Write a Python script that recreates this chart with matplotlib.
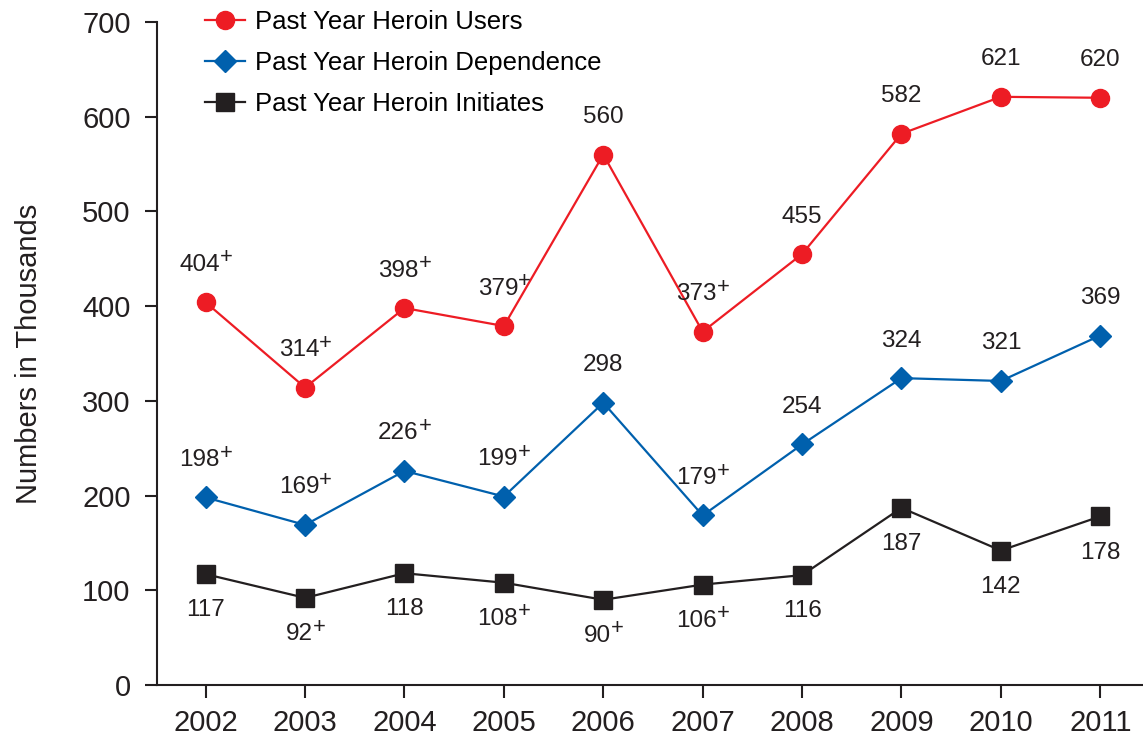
import numpy as np
import matplotlib.pyplot as plt

plt.rcParams['font.family'] = ['Liberation Sans', 'DejaVu Sans']

# Heroin use estimates, numbers in thousands
years = [2002, 2003, 2004, 2005, 2006, 2007, 2008, 2009, 2010, 2011]
users = [404, 314, 398, 379, 560, 373, 455, 582, 621, 620]
dependence = [198, 169, 226, 199, 298, 179, 254, 324, 321, 369]
initiates = [117, 92, 118, 108, 90, 106, 116, 187, 142, 178]

# years flagged with a "+" next to the estimate
users_flag = [1, 1, 1, 1, 0, 1, 0, 0, 0, 0]
dependence_flag = [1, 1, 1, 1, 0, 1, 0, 0, 0, 0]
initiates_flag = [0, 1, 0, 1, 1, 1, 0, 0, 0, 0]

red = '#ED1C24'
blue = '#0060AD'
black = '#231F20'

fig = plt.figure(figsize=(11.43, 7.38), dpi=100)
ax = fig.add_axes([157 / 1143, 1 - 685 / 738, 1 - 157 / 1143, (685 - 22) / 738])

ax.plot(years, users, color=red, lw=1.6, marker='o', ms=13, label='Past Year Heroin Users')
ax.plot(years, dependence, color=blue, lw=1.6, marker='D', ms=11, label='Past Year Heroin Dependence')
ax.plot(years, initiates, color=black, lw=1.6, marker='s', ms=13, label='Past Year Heroin Initiates')

fs = 17.5


def label_points(values, flags, dy):
    for x, v, f in zip(years, values, flags):
        if not f:
            ax.annotate(str(v), (x, v), xytext=(0, dy), textcoords='offset points',
                        ha='center', va='center', fontsize=fs, color=black)
            continue
        # number shifted left so number + sign sit centred on the point
        num_w = len(str(v)) * 0.556 * fs
        dx = -0.25 * fs
        ax.annotate(str(v), (x, v), xytext=(dx, dy), textcoords='offset points',
                    ha='center', va='center', fontsize=fs, color=black)
        ax.annotate('+', (x, v), xytext=(dx + num_w / 2, dy + 5), textcoords='offset points',
                    ha='left', va='center', fontsize=fs * 0.9, color=black)


label_points(users, users_flag, 27)
label_points(dependence, dependence_flag, 27)
label_points(initiates, initiates_flag, -26)

ax.set_xlim(2001.51, 2011.43)
ax.set_ylim(0, 700)
ax.set_yticks(np.arange(0, 701, 100))
ax.set_xticks(years)

for side in ['top', 'right']:
    ax.spines[side].set_visible(False)
for side in ['left', 'bottom']:
    ax.spines[side].set_linewidth(1.5)
    ax.spines[side].set_color(black)

ax.tick_params(axis='y', direction='out', length=9, width=1.5, pad=10, labelsize=21, colors=black)
ax.tick_params(axis='x', direction='out', length=9, width=1.5, pad=8, labelsize=21, colors=black)

ax.set_ylabel('Numbers in Thousands', fontsize=21, color=black, labelpad=28)

fig.legend(loc='upper left', bbox_to_anchor=(205 / 1143, 1 - 10 / 738),
           frameon=False, fontsize=18.5, handlelength=1.56, handletextpad=0.39,
           labelspacing=0.66, borderpad=0, borderaxespad=0)

fig.savefig('out.png', dpi=100)
